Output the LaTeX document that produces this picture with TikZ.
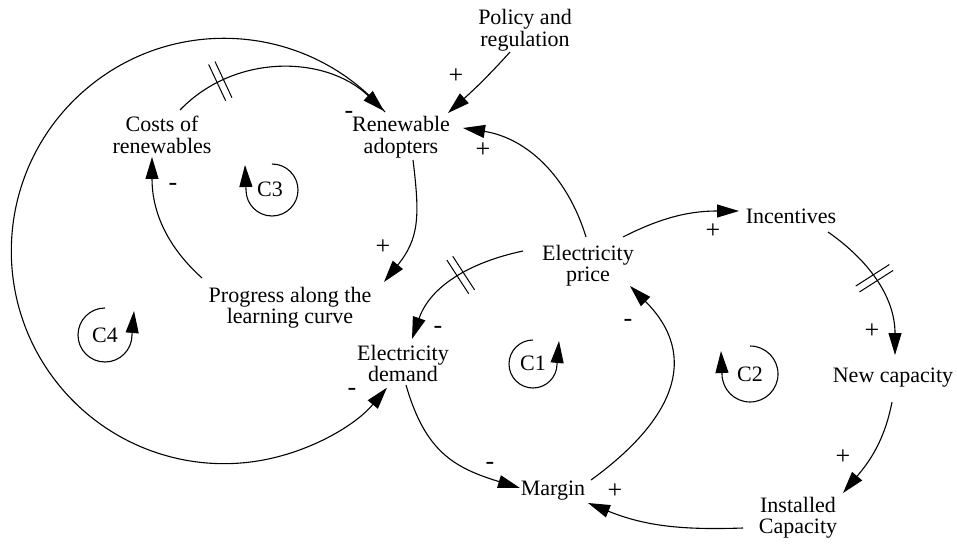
\documentclass[tikz,border=0pt]{standalone}
\usepackage{fontspec}
\setmainfont{Liberation Serif}
\usetikzlibrary{arrows.meta,decorations.markings}
\newcommand{\twoline}[1]{\begin{tabular}[t]{@{}c@{}}#1\end{tabular}}
\begin{document}
\begin{tikzpicture}[x=1pt,y=1pt,
  var/.style={anchor=base,inner sep=0pt,font=\fontsize{22}{21}\selectfont},
  sgn/.style={anchor=base,inner sep=0pt,font=\fontsize{26}{26}\selectfont},
  lp/.style={anchor=center,inner sep=0pt,font=\fontsize{22}{21}\selectfont},
  link/.style={line width=1.1pt,-{Triangle[length=22pt,width=13pt]}},
  loopar/.style={line width=1.1pt,-{Triangle[length=22pt,width=13pt]}},
  delay/.style={decoration={markings,mark=at position #1 with {\draw[-,line width=1pt] (-3.5,-20)--(-3.5,20) (3.5,-20)--(3.5,20);}},postaction={decorate}}
]
\useasboundingbox (0,0) rectangle (957,-545);
% variables
\node[var] (pol) at (525,-25) {\twoline{Policy and\\regulation}};
\node[var] (ra) at (401,-132) {\twoline{Renewable\\adopters}};
\node[var] (cr) at (162,-132) {\twoline{Costs of\\renewables}};
\node[var] (pl) at (290,-302) {\twoline{Progress along the\\learning curve}};
\node[var] (ed) at (403,-360) {\twoline{Electricity\\demand}};
\node[var] (ep) at (588,-260) {\twoline{Electricity\\price}};
\node[var] (inc) at (791,-224) {Incentives};
\node[var] (nc) at (893,-382) {New capacity};
\node[var] (ic) at (798,-512) {\twoline{Installed\\Capacity}};
\node[var] (mar) at (553,-495) {Margin};
% links
\draw[link] ([shift={(-15,-27)}]pol.base) to[out=228,in=42] ([shift={(47,19)}]ra.base);
\draw[link] ([shift={(-2,23)}]ep.base) to[out=107,in=-9] ([shift={(62,4)}]ra.base);
\draw[link,delay=0.22] ([shift={(18,22)}]cr.base) to[out=46,in=136] ([shift={(-17,21)}]ra.base);
\draw[link] ([shift={(-16,20)}]ra.base) arc[start angle=40.8,end angle=320,radius=212.7];
\draw[link,looseness=1.15] ([shift={(12,-28)}]ra.base) to[out=-83,in=51] ([shift={(94,20)}]pl.base);
\draw[link] ([shift={(-88,24)}]pl.base) to[out=138,in=-90] ([shift={(-10,-25)}]cr.base);
\draw[link,delay=0.45] ([shift={(-65,9)}]ep.base) to[out=192,in=71] ([shift={(9,21)}]ed.base);
\draw[link] ([shift={(35,23)}]ep.base) to[out=27,in=180] ([shift={(-52,13)}]inc.base);
\draw[link,delay=0.45] ([shift={(37,-8)}]inc.base) to[out=-35,in=90] ([shift={(2,27)}]nc.base);
\draw[link] ([shift={(-1,-20)}]nc.base) to[out=-101,in=50] ([shift={(45,19)}]ic.base);
\draw[link] ([shift={(-55,-16)}]ic.base) to[out=182,in=-22] ([shift={(35,-8)}]mar.base);
\draw[link,looseness=1.15] ([shift={(3,-25)}]ed.base) to[out=-74,in=163] ([shift={(-33,7)}]mar.base);
\draw[link,looseness=1.3] ([shift={(38,15)}]mar.base) to[out=36,in=-45] ([shift={(42,-26)}]ep.base);
% polarities
\node[sgn] (s1) at (456,-84) {+};
\node[sgn] (s2) at (483,-158) {+};
\node[sgn] (s3) at (349,-119) {-};
\node[sgn] (s4) at (383,-254) {+};
\node[sgn] (s5) at (173,-191) {-};
\node[sgn] (s6) at (438,-333) {-};
\node[sgn] (s7) at (352,-395) {-};
\node[sgn] (s8) at (628,-326) {-};
\node[sgn] (s9) at (713,-238) {+};
\node[sgn] (s10) at (872,-338) {+};
\node[sgn] (s11) at (843,-464) {+};
\node[sgn] (s12) at (615,-498) {+};
\node[sgn] (s13) at (490,-469) {-};
% loop markers
\node[lp] (c1) at (533,-363) {C1};
\node[lp] (c2) at (750,-374) {C2};
\node[lp] (c3) at (270,-189.5) {C3};
\node[lp] (c4) at (105,-335) {C4};
\draw[loopar] (533,-340) arc[start angle=90,end angle=360,radius=24] -- ++(2,23);
\draw[loopar] (750,-346) arc[start angle=90,end angle=-180,radius=28] -- ++(-1,23);
\draw[loopar] (272,-164) arc[start angle=90,end angle=-180,radius=26] -- ++(-1,25);
\draw[loopar] (105,-308) arc[start angle=90,end angle=360,radius=27] -- ++(2,24);
\end{tikzpicture}
\end{document}
